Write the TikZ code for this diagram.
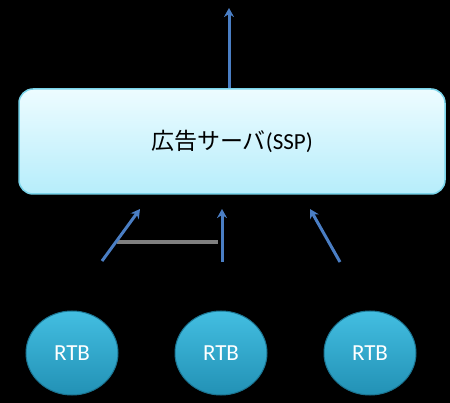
\documentclass[tikz,border=0pt]{standalone}
\usepackage{fontspec}
\setmainfont{Carlito}
\newfontfamily\cjk{Noto Sans CJK JP}
\usetikzlibrary{arrows.meta,shapes.geometric}
\definecolor{arrowblue}{HTML}{4A7EC4}
\definecolor{boxedge}{HTML}{7AD4EA}
\definecolor{boxtop}{HTML}{EDFCFF}
\definecolor{boxbot}{HTML}{B6EDFB}
\definecolor{rtbtop}{HTML}{43BEE1}
\definecolor{rtbbot}{HTML}{2291B5}
\tikzset{
  server/.style={draw=boxedge, line width=1.5pt, rounded corners=14pt, top color=boxtop, bottom color=boxbot,
    minimum width=426pt, minimum height=105pt, font=\fontsize{23}{26}\selectfont},
  rtb/.style={ellipse, draw=rtbbot!80!black, line width=1pt, top color=rtbtop, bottom color=rtbbot,
    minimum width=92pt, minimum height=84pt, text=white, font=\fontsize{23}{26}\selectfont},
  flow/.style={draw=arrowblue, line width=3pt, -{Stealth[length=9pt,width=10pt]}}
}
\begin{document}
\begin{tikzpicture}[x=1pt,y=-1pt]
	\fill [black] (0,0) rectangle (450,403);
	\useasboundingbox (0,0) rectangle (450,403);
	\node [server] (ssp) at (232,141.5) {\raisebox{-3pt}{{\cjk 広告サーバ}(SSP)}};
	\node [rtb] (rtbA) at (72,353) {RTB};
	\node [rtb] (rtbB) at (221,353) {RTB};
	\node [rtb] (rtbC) at (370,353) {RTB};
	\coordinate (out) at (229,8);
	\coordinate (leftfoot) at (102,261);
	\coordinate (lefttip) at (140,209);
	\coordinate (midfoot) at (222,262);
	\coordinate (midtip) at (222,209);
	\coordinate (rightfoot) at (340,262);
	\coordinate (righttip) at (310,209);
	\coordinate (barstart) at (117,242);
	\coordinate (barend) at (218,242);
	% up from the server
	\draw [flow] (ssp.north -| out) -- (out);
	% bids coming in
	\draw [gray, line width=4pt] (barstart) -- (barend);
	\draw [flow] (leftfoot) -- (lefttip);
	\draw [flow] (midfoot) -- (midtip);
	\draw [flow] (rightfoot) -- (righttip);
\end{tikzpicture}
\end{document}
